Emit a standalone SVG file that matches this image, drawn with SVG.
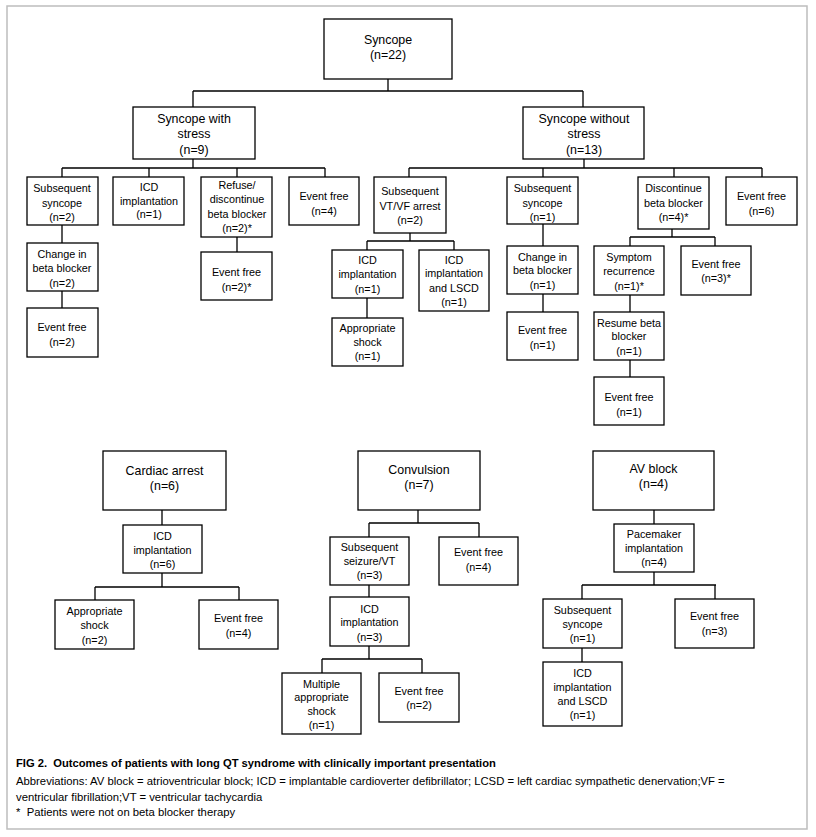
<svg xmlns="http://www.w3.org/2000/svg" width="816" height="837" viewBox="0 0 816 837">
<style>
.frame{fill:#fff;stroke:#bdbdbd;stroke-width:1.5}
.box{fill:#fff;stroke:#000;stroke-width:1.3}
.c{fill:none;stroke:#000;stroke-width:1.3}
text{font-family:"Liberation Sans",Arial,sans-serif;fill:#000}
.s{font-size:10.8px;text-anchor:middle}
.L{font-size:12.4px;text-anchor:middle}
.cap{font-size:11.2px;font-weight:bold}
.ab{font-size:11.3px}
</style>
<rect class="frame" x="7" y="6" width="800" height="823"/>
<g id="connectors">
<path class="c" d="M388,79V91M193,91H583M193,91V107M583,91V107"/>
<path class="c" d="M193,159V168M62,168H325M62,168V177M149,168V177M237,168V177M325,168V177"/>
<path class="c" d="M584,159V168M409,168H762M409,168V177M543,168V177M674,168V177M762,168V177"/>
<path class="c" d="M62,225V243M62,291V308M237,237V252"/>
<path class="c" d="M410,233V241M367,241H454M367,241V250M454,241V250M367,298V318"/>
<path class="c" d="M543,224V246M543,294V312"/>
<path class="c" d="M672,229V237M630,237H715M630,237V246M715,237V246M630,295V312M630,360V377"/>
<path class="c" d="M162,510V525M162,573V587M95,587H239M95,587V600M239,587V600"/>
<path class="c" d="M418,510V523M369,523H479M369,523V537M479,523V537M369,585V597M369,646V659M322,659H422M322,659V673M422,659V673"/>
<path class="c" d="M654,510V524M654,572V585M582,585H716M582,585V599M715,585V599M582,648V662"/>
</g>
<g id="syncope"><rect class="box" x="324" y="19" width="128" height="60"/><text class="L" x="388" y="44.4">Syncope</text><text class="L" x="388" y="59.4">(n=22)</text></g>
<g id="with-stress"><rect class="box" x="133" y="107" width="122" height="52"/><text class="L" x="194" y="123.4">Syncope with</text><text class="L" x="194" y="138.4">stress</text><text class="L" x="194" y="154.4">(n=9)</text></g>
<g id="without-stress"><rect class="box" x="523" y="107" width="121" height="52"/><text class="L" x="584" y="123.4">Syncope without</text><text class="L" x="584" y="138.4">stress</text><text class="L" x="584" y="154.4">(n=13)</text></g>
<g id="subsequent-syncope-2"><rect class="box" x="27" y="177" width="71" height="48"/><text class="s" x="62" y="192.1">Subsequent</text><text class="s" x="62" y="206.5">syncope</text><text class="s" x="62" y="220.5">(n=2)</text></g>
<g id="icd-1"><rect class="box" x="113" y="177" width="71" height="48"/><text class="s" x="149" y="191.3">ICD</text><text class="s" x="149" y="204.8">implantation</text><text class="s" x="149" y="218.3">(n=1)</text></g>
<g id="refuse"><rect class="box" x="201" y="177" width="71" height="60"/><text class="s" x="237" y="188.8">Refuse/</text><text class="s" x="237" y="203.3">discontinue</text><text class="s" x="237" y="217.8">beta blocker</text><text class="s" x="237" y="232.3">(n=2)*</text></g>
<g id="event-free-4a"><rect class="box" x="289" y="177" width="70" height="48"/><text class="s" x="324" y="199.8">Event free</text><text class="s" x="324" y="214.8">(n=4)</text></g>
<g id="vtvf"><rect class="box" x="374" y="177" width="72" height="56"/><text class="s" x="410" y="194.8">Subsequent</text><text class="s" x="410" y="209.8">VT/VF arrest</text><text class="s" x="410" y="223.8">(n=2)</text></g>
<g id="subsequent-syncope-1"><rect class="box" x="507" y="177" width="71" height="47"/><text class="s" x="542.5" y="191.8">Subsequent</text><text class="s" x="542.5" y="206.5">syncope</text><text class="s" x="542.5" y="220.8">(n=1)</text></g>
<g id="discontinue"><rect class="box" x="638" y="177" width="71" height="52"/><text class="s" x="673.5" y="191.8">Discontinue</text><text class="s" x="673.5" y="206.5">beta blocker</text><text class="s" x="673.5" y="220.8">(n=4)*</text></g>
<g id="event-free-6"><rect class="box" x="726" y="177" width="71" height="48"/><text class="s" x="761.5" y="199.8">Event free</text><text class="s" x="761.5" y="214.8">(n=6)</text></g>
<g id="change-2"><rect class="box" x="27" y="243" width="71" height="48"/><text class="s" x="62" y="258.1">Change in</text><text class="s" x="62" y="272.1">beta blocker</text><text class="s" x="62" y="287.1">(n=2)</text></g>
<g id="event-free-2a"><rect class="box" x="27" y="308" width="71" height="49"/><text class="s" x="62" y="330.5">Event free</text><text class="s" x="62" y="345.5">(n=2)</text></g>
<g id="event-free-2s"><rect class="box" x="201" y="252" width="71" height="48"/><text class="s" x="236.5" y="275.8">Event free</text><text class="s" x="236.5" y="290.8">(n=2)*</text></g>
<g id="icd-n1"><rect class="box" x="332" y="250" width="71" height="48"/><text class="s" x="367.5" y="263.8">ICD</text><text class="s" x="367.5" y="277.8">implantation</text><text class="s" x="367.5" y="292.5">(n=1)</text></g>
<g id="icd-lscd-1"><rect class="box" x="419" y="250" width="70" height="61"/><text class="s" x="454" y="263.8">ICD</text><text class="s" x="454" y="277.1">implantation</text><text class="s" x="454" y="291.5">and LSCD</text><text class="s" x="454" y="305.5">(n=1)</text></g>
<g id="appropriate-shock-1"><rect class="box" x="332" y="318" width="71" height="48"/><text class="s" x="367.5" y="331.8">Appropriate</text><text class="s" x="367.5" y="345.8">shock</text><text class="s" x="367.5" y="360.1">(n=1)</text></g>
<g id="change-1"><rect class="box" x="507" y="246" width="71" height="48"/><text class="s" x="542.5" y="261.1">Change in</text><text class="s" x="542.5" y="274.1">beta blocker</text><text class="s" x="542.5" y="288.8">(n=1)</text></g>
<g id="event-free-1a"><rect class="box" x="507" y="312" width="71" height="48"/><text class="s" x="542.5" y="333.8">Event free</text><text class="s" x="542.5" y="348.8">(n=1)</text></g>
<g id="symptom-recurrence"><rect class="box" x="594" y="246" width="70" height="49"/><text class="s" x="629" y="261.1">Symptom</text><text class="s" x="629" y="275.1">recurrence</text><text class="s" x="629" y="289.8">(n=1)*</text></g>
<g id="event-free-3s"><rect class="box" x="681" y="246" width="70" height="49"/><text class="s" x="716" y="267.8">Event free</text><text class="s" x="716" y="282.1">(n=3)*</text></g>
<g id="resume"><rect class="box" x="594" y="312" width="70" height="48"/><text class="s" x="629" y="326.5">Resume beta</text><text class="s" x="629" y="340.1">blocker</text><text class="s" x="629" y="354.8">(n=1)</text></g>
<g id="event-free-1b"><rect class="box" x="594" y="377" width="70" height="48"/><text class="s" x="629" y="400.8">Event free</text><text class="s" x="629" y="415.5">(n=1)</text></g>
<g id="cardiac-arrest"><rect class="box" x="103" y="451" width="123" height="59"/><text class="L" x="164.5" y="475.1">Cardiac arrest</text><text class="L" x="164.5" y="490.1">(n=6)</text></g>
<g id="icd-6"><rect class="box" x="123" y="525" width="79" height="48"/><text class="s" x="162.5" y="540.1">ICD</text><text class="s" x="162.5" y="553.8">implantation</text><text class="s" x="162.5" y="567.8">(n=6)</text></g>
<g id="appropriate-shock-2"><rect class="box" x="55" y="600" width="79" height="49"/><text class="s" x="94.5" y="615.1">Appropriate</text><text class="s" x="94.5" y="628.8">shock</text><text class="s" x="94.5" y="643.8">(n=2)</text></g>
<g id="event-free-4b"><rect class="box" x="199" y="600" width="79" height="49"/><text class="s" x="238.5" y="622.1">Event free</text><text class="s" x="238.5" y="637.1">(n=4)</text></g>
<g id="convulsion"><rect class="box" x="358" y="451" width="122" height="59"/><text class="L" x="419" y="473.9">Convulsion</text><text class="L" x="419" y="488.9">(n=7)</text></g>
<g id="seizure"><rect class="box" x="330" y="537" width="79" height="48"/><text class="s" x="369.5" y="551.1">Subsequent</text><text class="s" x="369.5" y="565.1">seizure/VT</text><text class="s" x="369.5" y="578.8">(n=3)</text></g>
<g id="event-free-4c"><rect class="box" x="439" y="537" width="79" height="48"/><text class="s" x="478.5" y="555.8">Event free</text><text class="s" x="478.5" y="570.5">(n=4)</text></g>
<g id="icd-3"><rect class="box" x="330" y="597" width="79" height="49"/><text class="s" x="369.5" y="613.1">ICD</text><text class="s" x="369.5" y="626.1">implantation</text><text class="s" x="369.5" y="640.5">(n=3)</text></g>
<g id="multiple-shock"><rect class="box" x="282" y="673" width="79" height="61"/><text class="s" x="321.5" y="688.1">Multiple</text><text class="s" x="321.5" y="701.1">appropriate</text><text class="s" x="321.5" y="714.8">shock</text><text class="s" x="321.5" y="729.1">(n=1)</text></g>
<g id="event-free-2c"><rect class="box" x="379" y="673" width="80" height="49"/><text class="s" x="419" y="694.8">Event free</text><text class="s" x="419" y="709.1">(n=2)</text></g>
<g id="av-block"><rect class="box" x="593" y="451" width="121" height="59"/><text class="L" x="653.5" y="473.1">AV block</text><text class="L" x="653.5" y="488.4">(n=4)</text></g>
<g id="pacemaker"><rect class="box" x="614" y="524" width="80" height="48"/><text class="s" x="654" y="537.8">Pacemaker</text><text class="s" x="654" y="551.8">implantation</text><text class="s" x="654" y="565.8">(n=4)</text></g>
<g id="subsequent-syncope-1b"><rect class="box" x="543" y="599" width="79" height="49"/><text class="s" x="582.5" y="613.8">Subsequent</text><text class="s" x="582.5" y="628.1">syncope</text><text class="s" x="582.5" y="641.8">(n=1)</text></g>
<g id="event-free-3"><rect class="box" x="675" y="599" width="79" height="49"/><text class="s" x="714.5" y="619.8">Event free</text><text class="s" x="714.5" y="634.5">(n=3)</text></g>
<g id="icd-lscd-2"><rect class="box" x="543" y="662" width="79" height="64"/><text class="s" x="582.5" y="677.1">ICD</text><text class="s" x="582.5" y="691.1">implantation</text><text class="s" x="582.5" y="704.8">and LSCD</text><text class="s" x="582.5" y="719.1">(n=1)</text></g>
<g id="caption">
<text class="cap" x="16" y="767" xml:space="preserve">FIG 2.  Outcomes of patients with long QT syndrome with clinically important presentation</text>
<text class="ab" x="16" y="785">Abbreviations: AV block = atrioventricular block; ICD = implantable cardioverter defibrillator; LCSD = left cardiac sympathetic denervation;VF =</text>
<text class="ab" x="16" y="801">ventricular fibrillation;VT = ventricular tachycardia</text>
<text class="ab" x="16" y="816" xml:space="preserve">*  Patients were not on beta blocker therapy</text>
</g>
</svg>
